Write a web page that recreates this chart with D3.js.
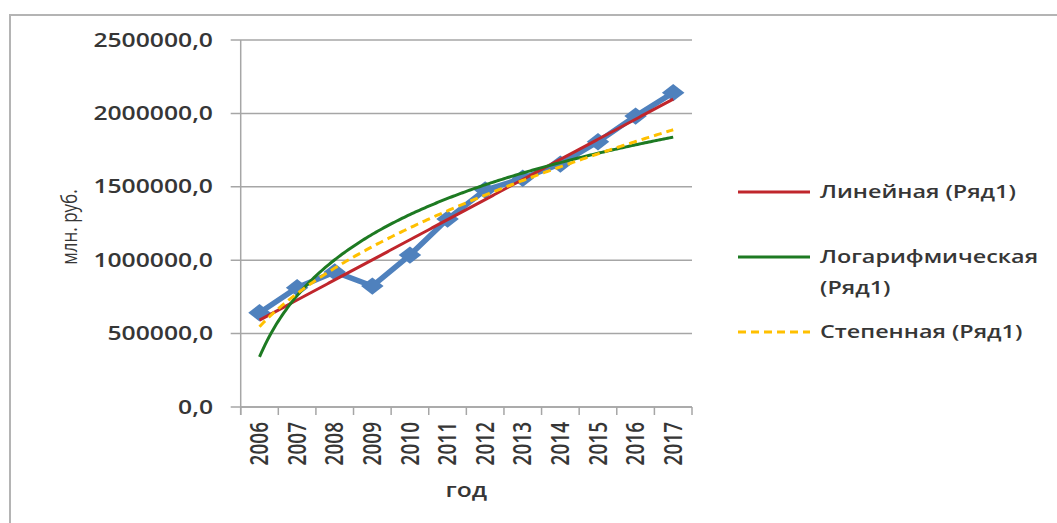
<!DOCTYPE html>
<html lang="ru">
<head>
  <meta charset="UTF-8">
  <title>Тренды - млн. руб. по годам</title>
  <script src="https://d3js.org/d3.v7.min.js"></script>
  <style>
    body { margin: 0; background: #fff; }
    svg text { font-family: "Open Sans", sans-serif; fill: #363636; }
    .nss { vector-effect: non-scaling-stroke; }
  </style>
</head>
<body>
  <div id="chart"></div>
  <script>
    // данные
    const years = ["2006", "2007", "2008", "2009", "2010", "2011", "2012", "2013", "2014", "2015", "2016", "2017"];
    const values = [642000, 813000, 920000, 824000, 1035000, 1280000, 1478000, 1558000, 1655000, 1807000, 1982000, 2141000];
    const yTicks = [0, 500000, 1000000, 1500000, 2000000, 2500000];
    const trendNames = ["linear", "log", "power"];
    const trendLabels = [["Линейная (Ряд1)"], ["Логарифмическая", "(Ряд1)"], ["Степенная (Ряд1)"]];
    const trendColors = ["#c0262c", "#1d7a22", "#ffc000"];

    const W = 1057, H = 523;
    const S = 1.3; // картинка растянута по горизонтали
    const px = v => v / S;

    const plot = { left: 240.7, right: 692, top: 40, bottom: 407 };

    const svg = d3.select("#chart")
      .append("svg")
      .attr("width", W)
      .attr("height", H)
      .attr("viewBox", `0 0 ${px(W)} ${H}`)
      .attr("preserveAspectRatio", "none");

    // рамка области диаграммы
    svg.append("rect")
      .attr("class", "nss")
      .attr("x", px(10)).attr("y", 15)
      .attr("width", px(1100)).attr("height", 600)
      .attr("fill", "none")
      .attr("stroke", "#b4b4b4")
      .attr("stroke-width", 2);

    const x = d3.scaleBand()
      .domain(years)
      .range([px(plot.left), px(plot.right)]);

    const y = d3.scaleLinear()
      .domain([0, 2500000])
      .range([plot.bottom, plot.top]);

    const ruFormat = d3.formatLocale({ decimal: ",", thousands: "", grouping: [3], currency: ["", ""] }).format(".1f");

    // сетка
    svg.append("g")
      .selectAll("line")
      .data(yTicks)
      .join("line")
      .attr("class", "nss")
      .attr("x1", px(plot.left - 10))
      .attr("x2", px(plot.right))
      .attr("y1", d => y(d))
      .attr("y2", d => y(d))
      .attr("stroke", "#a6a6a6")
      .attr("stroke-width", 1.5);

    // ось Y
    svg.append("line")
      .attr("class", "nss")
      .attr("x1", px(plot.left)).attr("x2", px(plot.left))
      .attr("y1", plot.top).attr("y2", plot.bottom + 8)
      .attr("stroke", "#a6a6a6")
      .attr("stroke-width", 1.5);

    svg.append("g")
      .selectAll("text")
      .data(yTicks)
      .join("text")
      .attr("x", px(213))
      .attr("y", d => y(d))
      .attr("dy", "0.35em")
      .attr("text-anchor", "end")
      .attr("font-size", 19)
      .attr("font-weight", 600)
      .text(d => ruFormat(d));

    // деления оси X на границах категорий
    const bounds = years.map(d => x(d)).concat([x.range()[1]]);
    svg.append("g")
      .selectAll("line")
      .data(bounds)
      .join("line")
      .attr("class", "nss")
      .attr("x1", d => d).attr("x2", d => d)
      .attr("y1", plot.bottom).attr("y2", plot.bottom + 8)
      .attr("stroke", "#a6a6a6")
      .attr("stroke-width", 1.5);

    svg.append("line")
      .attr("class", "nss")
      .attr("x1", px(plot.left)).attr("x2", px(plot.right))
      .attr("y1", plot.bottom).attr("y2", plot.bottom)
      .attr("stroke", "#a6a6a6")
      .attr("stroke-width", 1.5);

    svg.append("g")
      .selectAll("text")
      .data(years)
      .join("text")
      .attr("transform", d => `translate(${x(d) + x.bandwidth() / 2},${plot.bottom + 15}) rotate(-90)`)
      .attr("dy", "0.35em")
      .attr("text-anchor", "end")
      .attr("font-size", 19)
      .attr("font-weight", 600)
      .text(d => d);

    // подписи осей
    svg.append("text")
      .attr("x", px((plot.left + plot.right) / 2))
      .attr("y", 490)
      .attr("dy", "0.35em")
      .attr("text-anchor", "middle")
      .attr("font-size", 19)
      .attr("font-weight", 600)
      .text("год");

    svg.append("text")
      .attr("transform", `translate(${px(69)},227) rotate(-90)`)
      .attr("dy", "0.35em")
      .attr("text-anchor", "middle")
      .attr("font-size", 17)
      .text("млн. руб.");

    // линии тренда (МНК, как в Excel)
    const n = values.length;
    const ts = d3.range(1, n + 1);
    function fit(xs, ys) {
      const mx = d3.mean(xs), my = d3.mean(ys);
      const b = d3.sum(xs, (v, i) => (v - mx) * (ys[i] - my)) / d3.sum(xs, v => (v - mx) * (v - mx));
      return { a: my - b * mx, b: b };
    }
    const lin = fit(ts, values);
    const lg = fit(ts.map(Math.log), values);
    const pw = fit(ts.map(Math.log), values.map(Math.log));
    const trendFns = {
      linear: t => lin.a + lin.b * t,
      log: t => lg.a + lg.b * Math.log(t),
      power: t => Math.exp(pw.a) * Math.pow(t, pw.b)
    };

    const tx = t => x(years[0]) + x.bandwidth() / 2 + (t - 1) * x.step();
    const samples = d3.range(1, n + 0.001, 0.05);

    // основной ряд
    const line = d3.line()
      .x((d, i) => x(years[i]) + x.bandwidth() / 2)
      .y(d => y(d));

    svg.append("path")
      .datum(values)
      .attr("class", "nss")
      .attr("d", line)
      .attr("fill", "none")
      .attr("stroke", "#4f81bd")
      .attr("stroke-width", 5.5)
      .attr("stroke-linejoin", "round");

    svg.append("g")
      .selectAll("path")
      .data(values)
      .join("path")
      .attr("transform", (d, i) => `translate(${x(years[i]) + x.bandwidth() / 2},${y(d)}) rotate(45)`)
      .attr("d", d3.symbol(d3.symbolSquare, 150))
      .attr("fill", "#4f81bd");

    trendNames.forEach((name, k) => {
      const f = trendFns[name];
      svg.append("path")
        .datum(samples)
        .attr("class", "nss")
        .attr("d", d3.line().x(t => tx(t)).y(t => y(f(t))))
        .attr("fill", "none")
        .attr("stroke", trendColors[k])
        .attr("stroke-width", 3)
        .attr("stroke-dasharray", name === "power" ? "8,5" : null);
    });

    // легенда
    const legendRows = [192, 257, 332];
    const legend = svg.append("g");
    trendNames.forEach((name, k) => {
      legend.append("line")
        .attr("class", "nss")
        .attr("x1", px(738)).attr("x2", px(810))
        .attr("y1", legendRows[k]).attr("y2", legendRows[k])
        .attr("stroke", trendColors[k])
        .attr("stroke-width", 3)
        .attr("stroke-dasharray", name === "power" ? "8,5" : null);
      trendLabels[k].forEach((txt, j) => {
        legend.append("text")
          .attr("x", px(820))
          .attr("y", legendRows[k] + j * 31)
          .attr("dy", "0.35em")
          .attr("font-size", 18)
          .attr("font-weight", 600)
          .text(txt);
      });
    });
  </script>
</body>
</html>
